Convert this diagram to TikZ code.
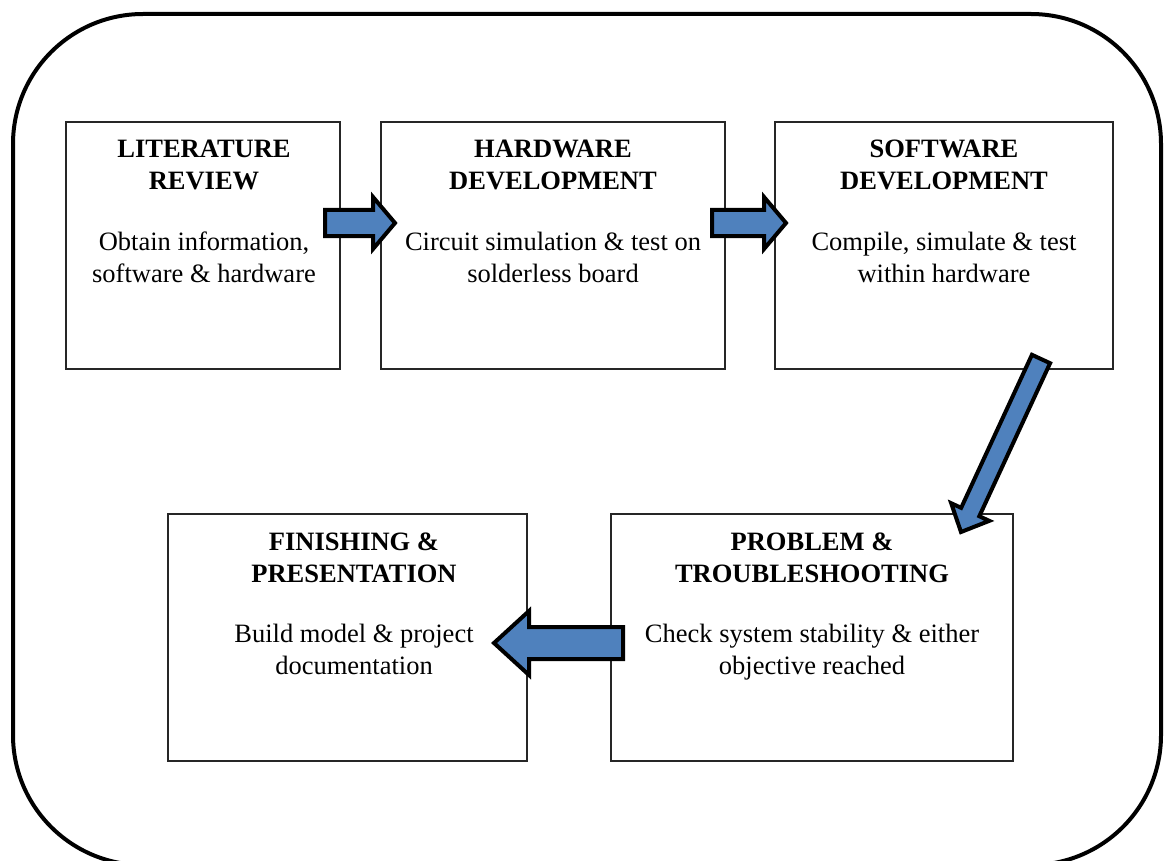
\documentclass[tikz,border=0pt]{standalone}
\usepackage{fontspec}
\setmainfont{Liberation Serif}
\usetikzlibrary{calc}
\definecolor{arrowblue}{HTML}{4F81BD}
\tikzset{
  stagebox/.style={draw=black!85, line width=1.3pt, rectangle, inner sep=0pt},
  ln/.style={anchor=base, inner sep=0pt, font=\fontsize{26.5}{31.8}\selectfont},
  ttl/.style={anchor=base, inner sep=0pt, font=\fontsize{26.5}{31.8}\selectfont\bfseries},
  blockarrow/.style={draw=black, fill=arrowblue, line width=4pt, line join=miter, miter limit=10},
  frame/.style={draw=black, line width=4pt, rounded corners=130pt},
}
% block arrow: start, end, shaft half width, head half width, head length
\newcommand\blockarr[5]{%
  \coordinate (hb) at ($(#2)!#5!(#1)$);
  \draw[blockarrow] ($(#1)!#3!90:(#2)$) -- ($(hb)!#3!90:(#2)$) -- ($(hb)!#4!90:(#2)$)
    -- (#2) -- ($(hb)!#4!-90:(#2)$) -- ($(hb)!#3!-90:(#2)$) -- ($(#1)!#3!-90:(#2)$) -- cycle;
}
% four text lines of a stage: name, x, first baseline, title 1, title 2, body 1, body 2
\newcommand\stagetext[7]{%
  \node[ttl] (#1-t1) at (#2,#3) {#4};
  \node[ttl] (#1-t2) at (#2,#3+32) {#5};
  \node[ln]  (#1-l1) at (#2,#3+92) {#6};
  \node[ln]  (#1-l2) at (#2,#3+124) {#7};
}
\begin{document}
\begin{tikzpicture}[x=1pt, y=-1pt]
\useasboundingbox (0,0) rectangle (1167,861);
\begin{scope}
\clip (0,0) rectangle (1167,861);
\draw[frame] (13,14) rectangle (1161,865);
\end{scope}

% stages
\node[stagebox, minimum width=274pt, minimum height=247pt] (b1) at (203,245.5) {};
\node[stagebox, minimum width=344pt, minimum height=247pt] (b2) at (553,245.5) {};
\node[stagebox, minimum width=338pt, minimum height=247pt] (b3) at (944,245.5) {};
\node[stagebox, minimum width=359pt, minimum height=247pt] (b4) at (347.5,637.5) {};
\node[stagebox, minimum width=402pt, minimum height=247pt] (b5) at (812,637.5) {};

\stagetext{s1}{204}{158}{LITERATURE}{REVIEW}{Obtain information,}{software \& hardware}
\stagetext{s2}{553}{158}{HARDWARE}{DEVELOPMENT}{Circuit simulation \& test on}{solderless board}
\stagetext{s3}{944}{158}{SOFTWARE}{DEVELOPMENT}{Compile, simulate \& test}{within hardware}
\stagetext{s4}{354}{550}{FINISHING \&}{PRESENTATION}{Build model \& project}{documentation}
\stagetext{s5}{812}{550}{PROBLEM \&}{TROUBLESHOOTING}{Check system stability \& either}{objective reached}

% arrows between stages
\coordinate (a1s) at (325,223);  \coordinate (a1e) at (395,223);
\coordinate (a2s) at (712,223);  \coordinate (a2e) at (786,223);
\coordinate (a3s) at (1041,359); \coordinate (a3e) at (961,532);
\coordinate (a4s) at (623,643);  \coordinate (a4e) at (494,643);
\blockarr{a1s}{a1e}{13pt}{26pt}{22pt}
\blockarr{a2s}{a2e}{13pt}{26pt}{22pt}
\blockarr{a3s}{a3e}{10pt}{21pt}{22pt}
\blockarr{a4s}{a4e}{16pt}{32pt}{35pt}
\end{tikzpicture}
\end{document}
